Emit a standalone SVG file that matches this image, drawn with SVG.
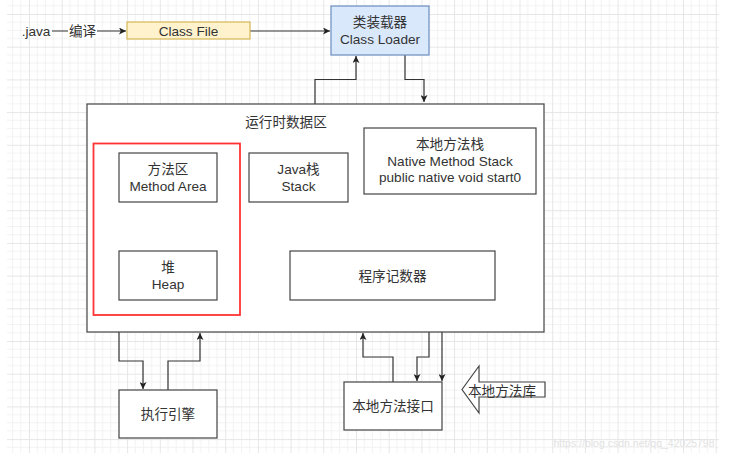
<svg xmlns="http://www.w3.org/2000/svg" width="735" height="455" viewBox="0 0 735 455">
<style>
.box{fill:#fff;stroke:#444;stroke-width:1.2}
.t{font-family:"Liberation Sans",Arial,"Noto Sans CJK SC",sans-serif;font-size:13.6px;fill:#333;text-anchor:middle}
.ln{fill:none;stroke:#333;stroke-width:1.2}
</style>
<defs>
<pattern id="grid" patternUnits="userSpaceOnUse" x="29" y="14" width="32.7" height="32.7">
<path d="M8.175 0V32.7M16.35 0V32.7M24.525 0V32.7M0 8.175H32.7M0 16.35H32.7M0 24.525H32.7" stroke="#f2f2f2" stroke-width="1" fill="none"/>
<path d="M0.5 0V32.7M0 0.5H32.7" stroke="#e6e6e6" stroke-width="1" fill="none"/>
</pattern>
<marker id="ah" viewBox="0 0 10 10" refX="10" refY="5" markerWidth="7" markerHeight="7" markerUnits="userSpaceOnUse" orient="auto">
<path d="M0 0L10 5L0 10L2.5 5Z" fill="#222"/>
</marker>
</defs>
<rect x="0" y="0" width="735" height="455" fill="#fff"/>
<rect x="7" y="0" width="712" height="453" fill="url(#grid)"/>

<g id="connectors">
<path class="ln" d="M52 31H126" marker-end="url(#ah)"/>
<rect x="68" y="23" width="29" height="16" fill="#fff"/>
<text class="t" x="82.5" y="36">编译</text>
<path class="ln" d="M250 31H330" marker-end="url(#ah)"/>
<path class="ln" d="M315 104V79.5H356V56" marker-end="url(#ah)"/>
<path class="ln" d="M405 55V79.5H424V102" marker-end="url(#ah)"/>
<path class="ln" d="M449 194V288H442V381" marker-end="url(#ah)"/>
<rect x="441" y="212" width="16" height="11" fill="#fff"/>
<text x="449" y="221" style="font-family:'Liberation Sans',Arial,sans-serif;font-size:8.5px;fill:#444;text-anchor:middle">JNI</text>
<path class="ln" d="M119 332V361H143V389" marker-end="url(#ah)"/>
<path class="ln" d="M168 390V361H200V333" marker-end="url(#ah)"/>
<path class="ln" d="M393 382V357H363V333" marker-end="url(#ah)"/>
<path class="ln" d="M429 332V357H417V381" marker-end="url(#ah)"/>
</g>

<g id="java">
<text class="t" x="36" y="36">.java</text>
</g>

<g id="classfile">
<rect x="127" y="22" width="123" height="17" fill="#fff2cc" stroke="#d6b656" stroke-width="1.2"/>
<text class="t" x="188.5" y="35.5">Class File</text>
</g>

<g id="classloader">
<rect x="331" y="6" width="98" height="49" fill="#dae8fc" stroke="#6c8ebf" stroke-width="1.2"/>
<text class="t" x="380" y="27">类装载器</text>
<text class="t" x="380" y="44">Class Loader</text>
</g>

<g id="runtime">
<rect class="box" x="87" y="104" width="457" height="228"/>
<text class="t" x="286" y="127">运行时数据区</text>
</g>

<g id="redframe">
<rect x="93.5" y="143.5" width="146.5" height="171.5" fill="none" stroke="#ff3333" stroke-width="1.8"/>
</g>

<g id="methodarea">
<rect class="box" x="119" y="153" width="98" height="49"/>
<text class="t" x="168" y="174">方法区</text>
<text class="t" x="168" y="191">Method Area</text>
</g>

<g id="heap">
<rect class="box" x="119" y="251" width="98" height="49"/>
<text class="t" x="168" y="272">堆</text>
<text class="t" x="168" y="289">Heap</text>
</g>

<g id="javastack">
<rect class="box" x="249" y="153" width="99" height="49"/>
<text class="t" x="298.5" y="174">Java栈</text>
<text class="t" x="298.5" y="191">Stack</text>
</g>

<g id="nativestack">
<rect class="box" x="364" y="128" width="172" height="66"/>
<text class="t" x="450" y="149">本地方法栈</text>
<text class="t" x="450" y="166">Native Method Stack</text>
<text class="t" x="450" y="182">public native void start0</text>
</g>

<g id="pc">
<rect class="box" x="290" y="251" width="205" height="49"/>
<text class="t" x="392.5" y="280.5">程序记数器</text>
</g>

<g id="engine">
<rect class="box" x="119" y="390" width="98" height="48"/>
<text class="t" x="168" y="419">执行引擎</text>
</g>

<g id="nativeinterface">
<rect class="box" x="344" y="382" width="98" height="48"/>
<text class="t" x="393" y="411">本地方法接口</text>
</g>

<g id="nativelib">
<path class="box" d="M462 389.5L479 366V382H545V397H479V413Z"/>
<text class="t" x="502" y="396">本地方法库</text>
</g>

<g id="watermark">
<text x="634" y="447" style="font-family:'Liberation Sans',Arial,sans-serif;font-size:10.5px;fill:#e2e2e2;text-anchor:middle">https://blog.csdn.net/qq_42025798</text>
</g>
</svg>
